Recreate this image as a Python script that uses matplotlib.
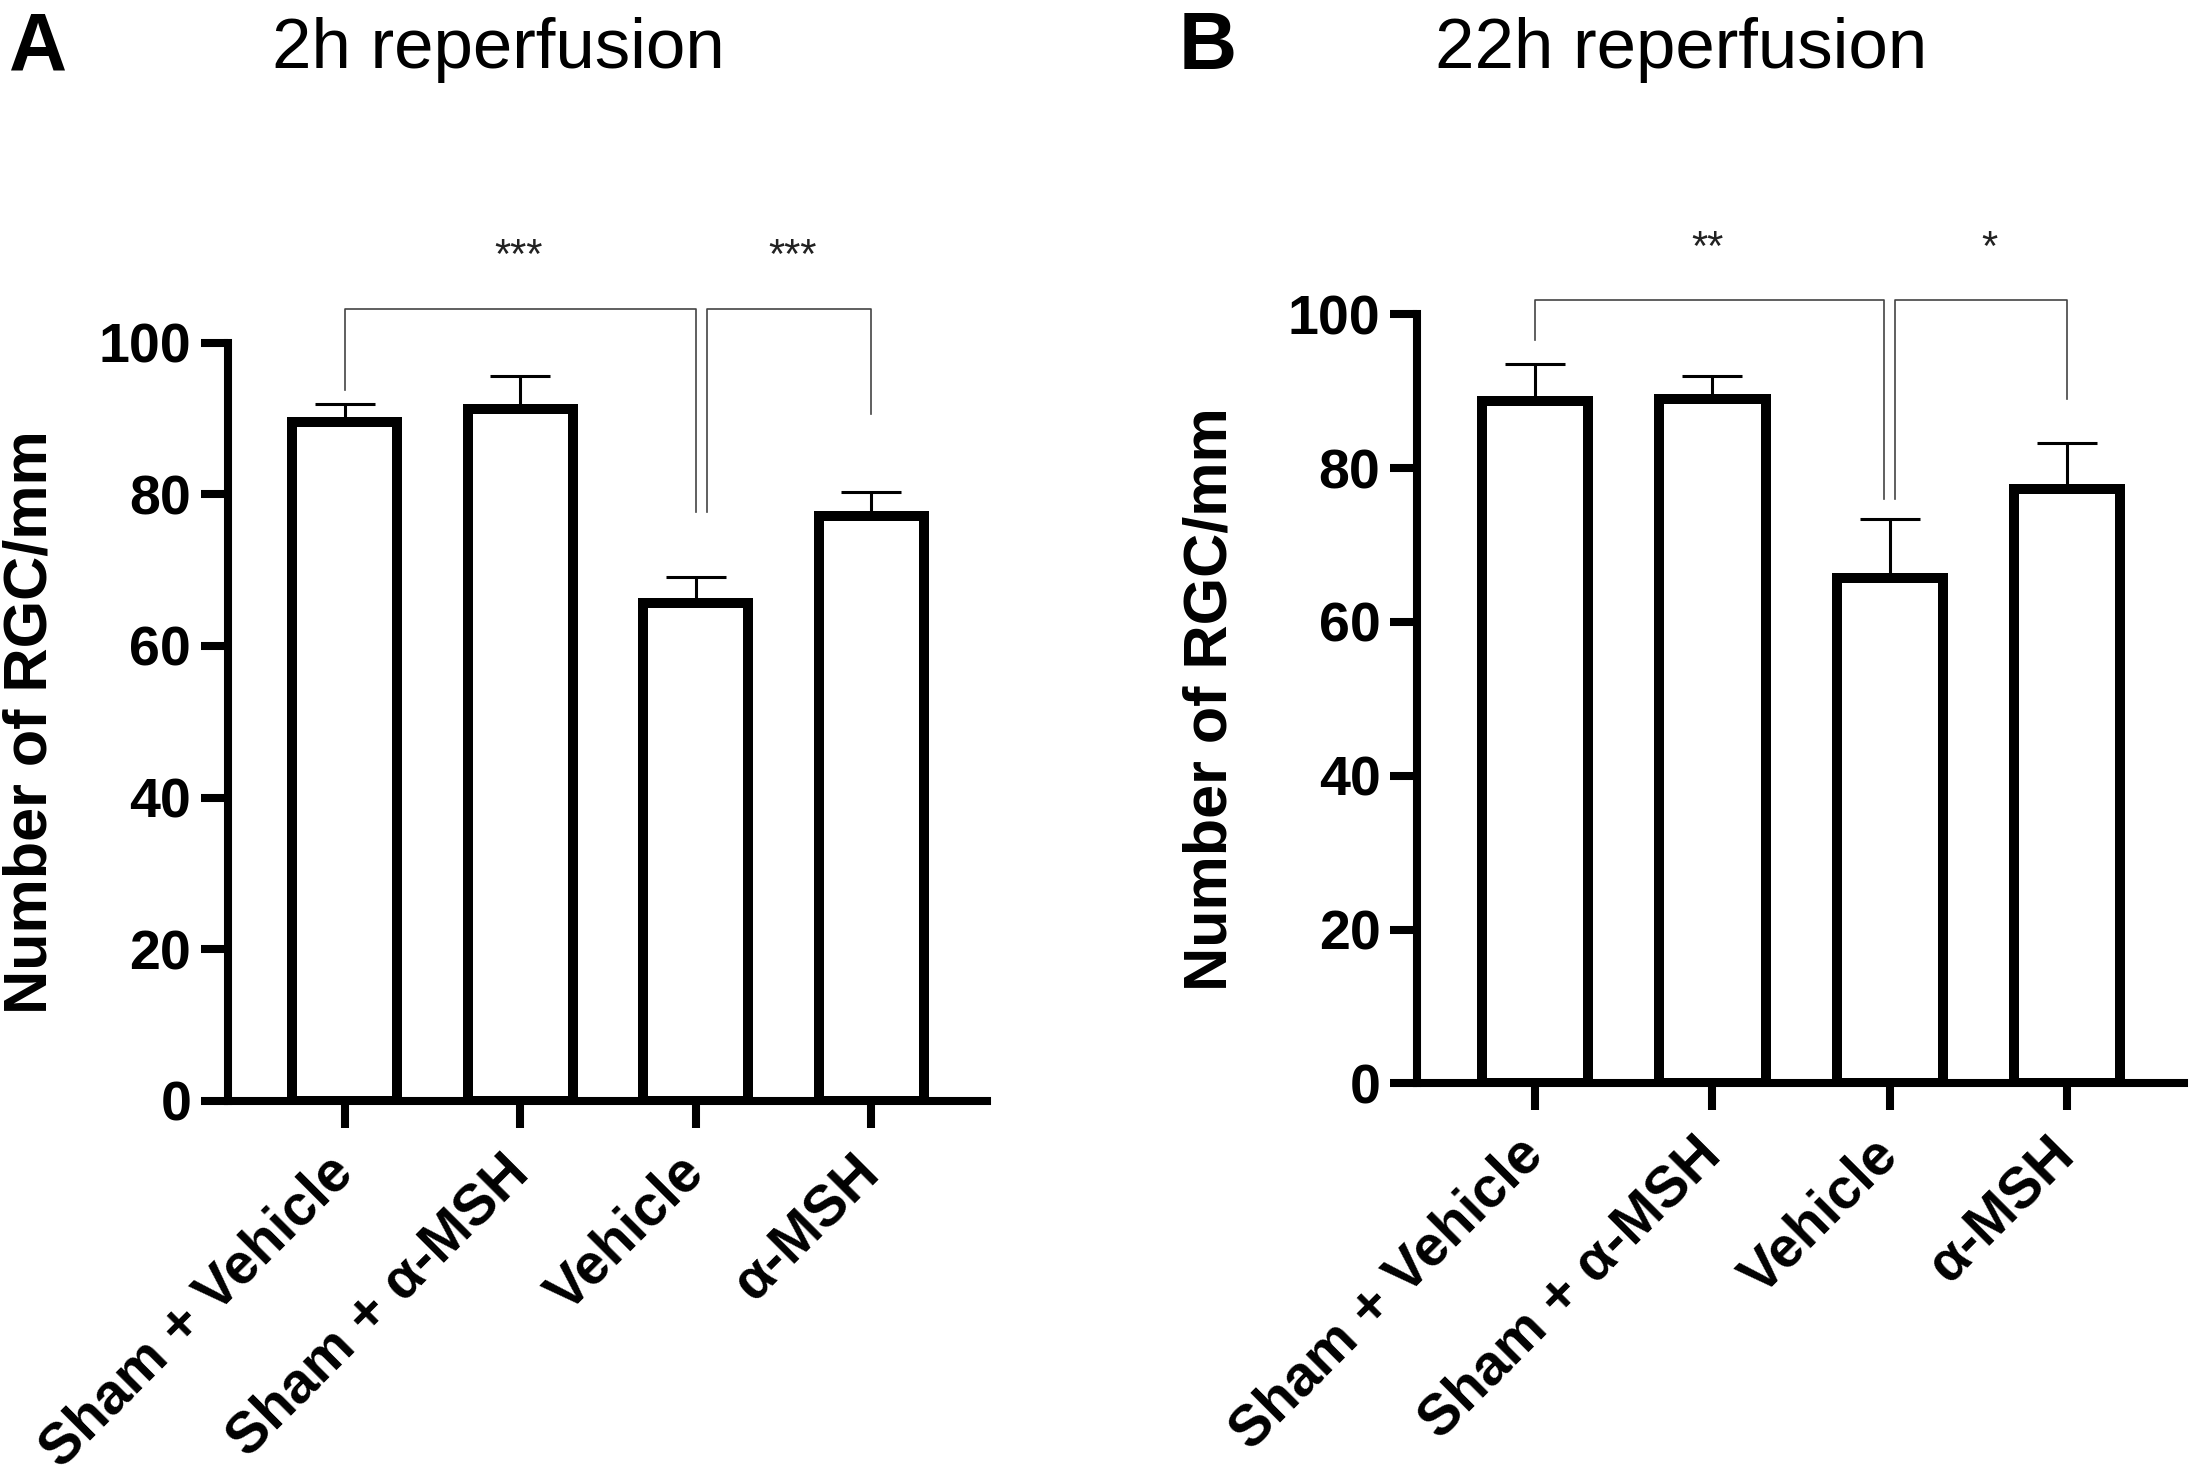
import matplotlib
matplotlib.use("Agg")
import matplotlib.pyplot as plt

plt.rcParams['font.family'] = ['Liberation Sans', 'DejaVu Sans']

groups = ["Sham + Vehicle", "Sham + α-MSH", "Vehicle", "α-MSH"]

# 2h reperfusion
rgc_2h = [89.6, 91.3, 65.7, 77.2]
sem_2h = [2.3, 4.3, 3.4, 3.1]
# 22h reperfusion
rgc_22h = [88.7, 89.0, 65.7, 77.3]
sem_22h = [4.8, 3.0, 7.7, 6.0]

# significance brackets: (left x, right x, left leg end, right leg end, label x, label)
sig_2h = [(0, 2.0, 93.7, 77.7, 0.99, "***"), (2.063, 3, 77.7, 90.6, 2.55, "***")]
sig_22h = [(0, 1.97, 96.7, 76.0, 0.97, "**"), (2.03, 3, 76.0, 89.0, 2.56, "*")]
bracket_top_2h = 104.5
bracket_top_22h = 101.9
star_y_2h = 109.8
star_y_22h = 107.0


def draw_panel(ax, vals, errs, sigs, top, star_y, label_x):
    x = list(range(len(groups)))
    ax.errorbar(x, vals, yerr=[[0] * len(errs), errs], fmt='none', ecolor='black',
                elinewidth=2.2, capsize=21.5, capthick=2.2, zorder=2)
    ax.bar(x, vals, width=0.6, color='white', edgecolor='black', linewidth=7.2, zorder=3)

    for xl, xr, yl, yr, xt, lab in sigs:
        ax.plot([xl, xl, xr, xr], [yl, top, top, yr], color='#444444', lw=1.2,
                clip_on=False, zorder=4)
        ax.text(xt, star_y, lab, ha='center', va='baseline', fontsize=30,
                color='#222222', clip_on=False)

    ax.set_xlim(-0.665, 3.66)
    ax.set_ylim(0, 100)
    ax.set_yticks([0, 20, 40, 60, 80, 100])
    ax.set_xticks(x)
    ax.set_xticklabels(groups, rotation=45, ha='right', va='center', rotation_mode='anchor',
                       fontweight='bold', fontsize=41)
    for t in ax.get_yticklabels():
        t.set_fontweight('bold')
    ax.tick_params(axis='both', length=19.5, width=5.8, color='black')
    ax.tick_params(axis='y', pad=7, labelsize=40)
    ax.tick_params(axis='x', pad=26)
    for s in ['top', 'right']:
        ax.spines[s].set_visible(False)
    for s in ['left', 'bottom']:
        ax.spines[s].set_linewidth(5.8)
    ax.spines['left'].set_bounds(0, 100)
    ax.set_ylabel("Number of RGC/mm", fontsize=44, fontweight='bold', va='center')
    ax.yaxis.set_label_coords(label_x, 0.5)


fig = plt.figure(figsize=(21.96, 14.84), dpi=100)
ax1 = fig.add_axes([0.1038, 0.2581, 0.3457, 0.5110])
ax2 = fig.add_axes([0.6454, 0.2699, 0.3491, 0.5183])

draw_panel(ax1, rgc_2h, sem_2h, sig_2h, bracket_top_2h, star_y_2h, -0.26)
draw_panel(ax2, rgc_22h, sem_22h, sig_22h, bracket_top_22h, star_y_22h, -0.269)

fig.text(498 / 2196, 1 - 50 / 1484, "2h reperfusion", fontsize=51, ha='center', va='center')
fig.text(1681 / 2196, 1 - 50 / 1484, "22h reperfusion", fontsize=51, ha='center', va='center')
fig.text(38 / 2196, 1 - 48 / 1484, "A", fontsize=58, fontweight='bold', ha='center', va='center')
fig.text(1208 / 2196, 1 - 48 / 1484, "B", fontsize=58, fontweight='bold', ha='center', va='center')

fig.savefig("out.png", dpi=100, facecolor='white')
